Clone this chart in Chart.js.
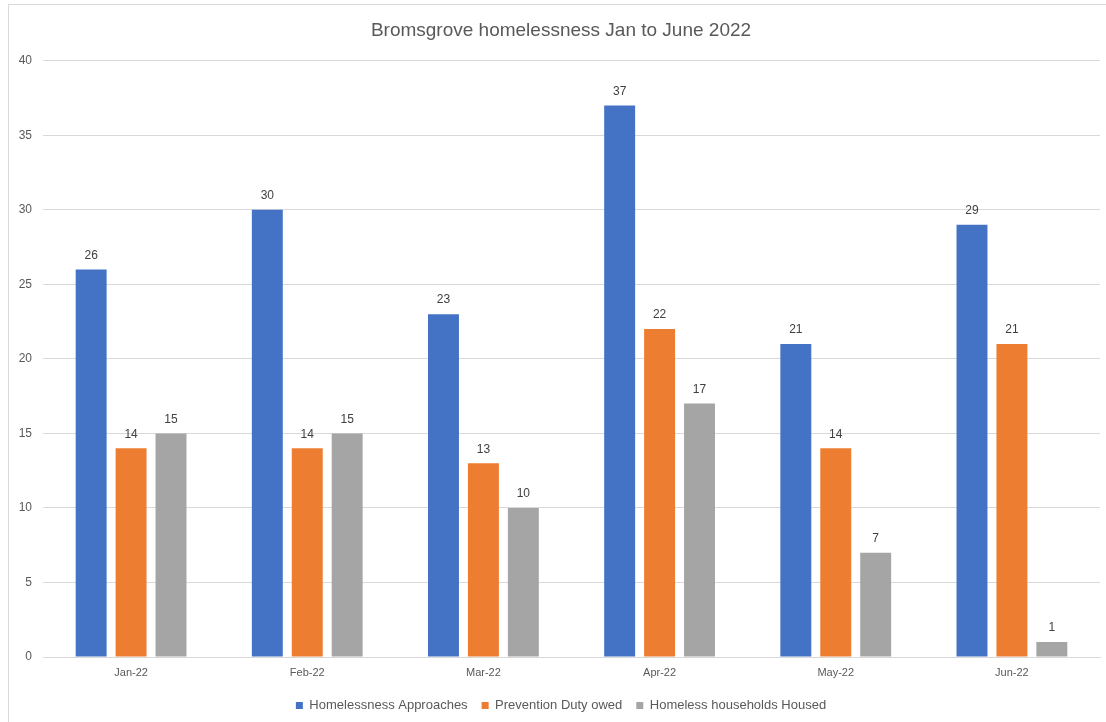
<!DOCTYPE html>
<html>
<head>
<meta charset="utf-8">
<script src="https://cdn.jsdelivr.net/npm/chart.js@4.4.1/dist/chart.umd.min.js"></script>
<style>
    html, body { margin: 0; padding: 0; background: #fff; overflow: hidden; }
    #frame {
        position: absolute; left: 8px; top: 4px;
        width: 1120px; height: 740px;
        border: 1px solid #d9d9d9; box-sizing: border-box;
    }
    #wrap { position: absolute; left: 0; top: 0; width: 1106px; height: 722px; }
</style>
</head>
<body>
<div id="frame"></div>
<div id="wrap"><canvas id="homelessChart"></canvas></div>
<script>
// Monthly figures
const months = ['Jan-22', 'Feb-22', 'Mar-22', 'Apr-22', 'May-22', 'Jun-22'];
const approaches = [26, 30, 23, 37, 21, 29];
const preventionDuty = [14, 14, 13, 22, 14, 21];
const housed = [15, 15, 10, 17, 7, 1];
const yTicks = [0, 5, 10, 15, 20, 25, 30, 35, 40];

const textColor = '#595959';
const fontFamily = '"Liberation Sans", Arial, sans-serif';

// Writes each bar's value just above it
const barValueLabels = {
    id: 'barValueLabels',
    afterDatasetsDraw(chart) {
        const ctx = chart.ctx;
        ctx.save();
        ctx.font = '12px ' + fontFamily;
        ctx.fillStyle = '#404040';
        ctx.textAlign = 'center';
        ctx.textBaseline = 'bottom';
        chart.data.datasets.forEach((ds, i) => {
            chart.getDatasetMeta(i).data.forEach((bar, j) => {
                ctx.fillText(ds.data[j], bar.x, bar.y - 8);
            });
        });
        ctx.restore();
    }
};

// Y axis numbers, drawn outside the narrow axis box so they are not clipped
const yAxisNumbers = {
    id: 'yAxisNumbers',
    afterDraw(chart) {
        const ctx = chart.ctx;
        const yScale = chart.scales.y;
        ctx.save();
        ctx.font = '12px ' + fontFamily;
        ctx.fillStyle = textColor;
        ctx.textAlign = 'right';
        ctx.textBaseline = 'middle';
        yTicks.forEach(v => {
            ctx.fillText(v, chart.chartArea.left - 11, yScale.getPixelForValue(v));
        });
        ctx.restore();
    }
};

new Chart(document.getElementById('homelessChart'), {
    type: 'bar',
    data: {
        labels: months,
        datasets: [
            { label: 'Homelessness Approaches', data: approaches, backgroundColor: '#4472C4' },
            { label: 'Prevention Duty owed', data: preventionDuty, backgroundColor: '#ED7D31' },
            { label: 'Homeless households Housed', data: housed, backgroundColor: '#A5A5A5' }
        ]
    },
    options: {
        responsive: true,
        maintainAspectRatio: false,
        animation: false,
        categoryPercentage: 0.68,
        barPercentage: 0.775,
        layout: { padding: { left: 22, right: 6, top: 0, bottom: 0 } },
        plugins: {
            title: {
                display: true,
                text: 'Bromsgrove homelessness Jan to June 2022',
                color: textColor,
                font: { family: fontFamily, size: 19, weight: 'normal' },
                padding: { top: 19, bottom: 19 }
            },
            legend: {
                position: 'bottom',
                labels: {
                    color: textColor,
                    font: { family: fontFamily, size: 13 },
                    boxWidth: 7,
                    boxHeight: 7,
                    padding: 14
                }
            },
            tooltip: { enabled: false }
        },
        scales: {
            x: {
                grid: { display: false, drawTicks: false },
                border: { display: true, color: '#d9d9d9' },
                ticks: { color: textColor, font: { family: fontFamily, size: 11 }, padding: 9 },
                afterFit(scale) { scale.height = 28; }
            },
            y: {
                min: 0,
                max: 40,
                afterBuildTicks(scale) { scale.ticks = yTicks.map(v => ({ value: v })); },
                grid: { color: '#d9d9d9', drawTicks: false },
                border: { display: false },
                ticks: { display: false },
                afterFit(scale) { scale.width = 21; }
            }
        }
    },
    plugins: [barValueLabels, yAxisNumbers]
});
</script>
</body>
</html>
